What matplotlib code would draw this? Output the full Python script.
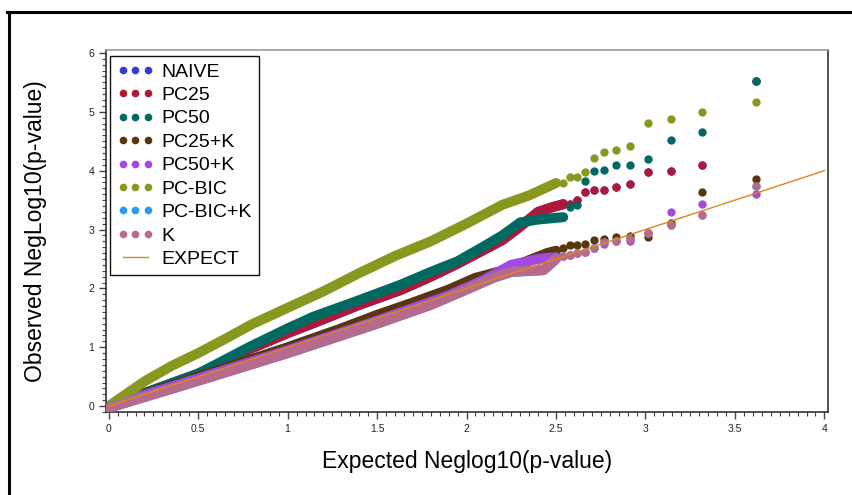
import numpy as np
import matplotlib
matplotlib.use("Agg")
import matplotlib.pyplot as plt
from matplotlib.lines import Line2D
from matplotlib.ticker import MultipleLocator, FuncFormatter

plt.rcParams['font.family'] = ['Liberation Sans', 'DejaVu Sans']

# dense part of each QQ curve (expected, observed)
pc25_x = [0, 0.2, 0.5, 0.79, 1.0, 1.145, 1.4, 1.63, 1.8, 1.95, 2.1, 2.2, 2.3, 2.4, 2.48, 2.54]
pc25_y = [0, 0.22, 0.55, 0.97, 1.24, 1.41, 1.72, 1.97, 2.20, 2.42, 2.66, 2.82, 3.05, 3.30, 3.38, 3.43]

pc50_x = [0, 0.2, 0.5, 0.79, 1.0, 1.145, 1.4, 1.63, 1.8, 1.95, 2.1, 2.2, 2.3, 2.4, 2.54]
pc50_y = [0, 0.22, 0.55, 1.01, 1.32, 1.52, 1.80, 2.06, 2.28, 2.46, 2.72, 2.90, 3.12, 3.17, 3.21]

pc25k_x = [0, 0.5, 1.0, 1.3, 1.5, 1.7, 1.9, 2.05, 2.2, 2.35, 2.45, 2.5]
pc25k_y = [0, 0.50, 1.0, 1.32, 1.55, 1.76, 1.98, 2.18, 2.30, 2.48, 2.60, 2.64]

pc50k_x = [0, 0.5, 1.0, 1.5, 1.9, 2.1, 2.25, 2.4, 2.5]
pc50k_y = [0, 0.47, 0.95, 1.45, 1.88, 2.15, 2.40, 2.50, 2.53]

pcbic_x = [0, 0.1, 0.2, 0.35, 0.5, 0.65, 0.8, 1.0, 1.2, 1.4, 1.6, 1.8, 2.0, 2.2, 2.35, 2.5]
pcbic_y = [0, 0.21, 0.42, 0.68, 0.90, 1.14, 1.39, 1.67, 1.95, 2.26, 2.55, 2.80, 3.10, 3.42, 3.58, 3.79]

k_x = [0, 0.5, 1.0, 1.5, 1.8, 2.0, 2.15, 2.25, 2.43, 2.5]
k_y = [-0.03, 0.43, 0.90, 1.40, 1.72, 1.98, 2.18, 2.28, 2.31, 2.50]

# top hits, shown as separate dots
tail_x = [2.538, 2.577, 2.618, 2.663, 2.713, 2.77, 2.838, 2.916, 3.015, 3.14, 3.316, 3.615]
pc25_tail = [3.43, 3.44, 3.50, 3.63, 3.67, 3.67, 3.72, 3.78, 3.97, 3.99, 4.10, 5.52]
pc50_tail = [3.21, 3.39, 3.41, 3.82, 3.99, 4.01, 4.10, 4.10, 4.20, 4.52, 4.665, 5.515]
pc25k_tail = [2.69, 2.73, 2.74, 2.76, 2.82, 2.84, 2.88, 2.89, 2.88, 3.11, 3.63, 3.855]
pc50k_tail = [2.55, 2.57, 2.60, 2.62, 2.68, 2.75, 2.80, 2.81, 2.94, 3.29, 3.43, 3.60]
pcbic_tail = [3.79, 3.90, 3.90, 3.97, 4.21, 4.32, 4.35, 4.42, 4.81, 4.886, 5.005, 5.175]
k_tail = [2.55, 2.56, 2.60, 2.61, 2.68, 2.78, 2.81, 2.84, 2.94, 3.07, 3.25, 3.74]

names = ['NAIVE', 'PC25', 'PC50', 'PC25+K', 'PC50+K', 'PC-BIC', 'PC-BIC+K', 'K']
colors = ['#3a3ad8', '#b0183a', '#006a60', '#583610', '#a448e0', '#88981e', '#2a98f6', '#b86a8c']
# NAIVE and PC-BIC+K sit underneath PC25 and K
xs = [pc25_x, pc25_x, pc50_x, pc25k_x, pc50k_x, pcbic_x, k_x, k_x]
ys = [pc25_y, pc25_y, pc50_y, pc25k_y, pc50k_y, pcbic_y, k_y, k_y]
tails = [pc25_tail, pc25_tail, pc50_tail, pc25k_tail, pc50k_tail, pcbic_tail, k_tail, k_tail]

fig = plt.figure(figsize=(8.52, 4.95), dpi=100)
ax = fig.add_axes([106/852, 83/495, 722/852, 362/495])

for i in range(len(names)):
    ax.plot(xs[i], ys[i], color=colors[i], lw=7.2, solid_capstyle='round',
            solid_joinstyle='round', zorder=2 + i * 0.1)
    ax.plot(tail_x, tails[i], 'o', color=colors[i], ms=6.0, mec='none',
            zorder=2 + i * 0.1)

ax.plot([0, 4], [0, 4], color='#d98a1a', lw=1.0, zorder=5)

ax.set_xlim(-0.015, 4.02)
ax.set_ylim(-0.1, 6.05)
ax.xaxis.set_major_locator(MultipleLocator(0.5))
ax.xaxis.set_minor_locator(MultipleLocator(0.05))
ax.yaxis.set_major_locator(MultipleLocator(1))
ax.yaxis.set_minor_locator(MultipleLocator(0.1))
fmt = FuncFormatter(lambda v, p: ('%g' % v))
ax.xaxis.set_major_formatter(fmt)
ax.yaxis.set_major_formatter(fmt)
ax.tick_params(which='major', length=5, width=1, colors='#444444', labelsize=7.5,
               labelcolor='#222222')
ax.tick_params(which='minor', length=3, width=0.8, colors='#444444')
ax.tick_params(top=False, right=False, which='both')
for s in ['left', 'bottom', 'right']:
    ax.spines[s].set_color('#333333')
ax.spines['top'].set_color('#999999')
for s in ax.spines.values():
    s.set_linewidth(1.2)

ax.set_xlabel('Expected Neglog10(p-value)', fontsize=16.5, labelpad=12)
ax.set_ylabel('Observed NegLog10(p-value)', fontsize=16.5, labelpad=30)

handles = [Line2D([], [], ls='none', marker='o', ms=5.5, color=c, mec='none') for c in colors]
handles.append(Line2D([], [], color='#d98a1a', lw=1.0))
leg = ax.legend(handles, names + ['EXPECT'], loc='upper left',
                bbox_to_anchor=(0.0055, 0.983), borderaxespad=0, numpoints=3,
                handlelength=1.9, handletextpad=0.4, labelspacing=0.3,
                fontsize=14, fancybox=False, framealpha=1, edgecolor='#111111',
                borderpad=0.35)
leg.get_frame().set_linewidth(1.0)

# frame around the whole graphic
fig.add_artist(Line2D([7/852, 1], [1 - 12/495, 1 - 12/495], color='black', lw=2.2,
                      transform=fig.transFigure))
fig.add_artist(Line2D([9/852, 9/852], [0, 1 - 12/495], color='black', lw=2.2,
                      transform=fig.transFigure))

fig.savefig('out.png', dpi=100)
